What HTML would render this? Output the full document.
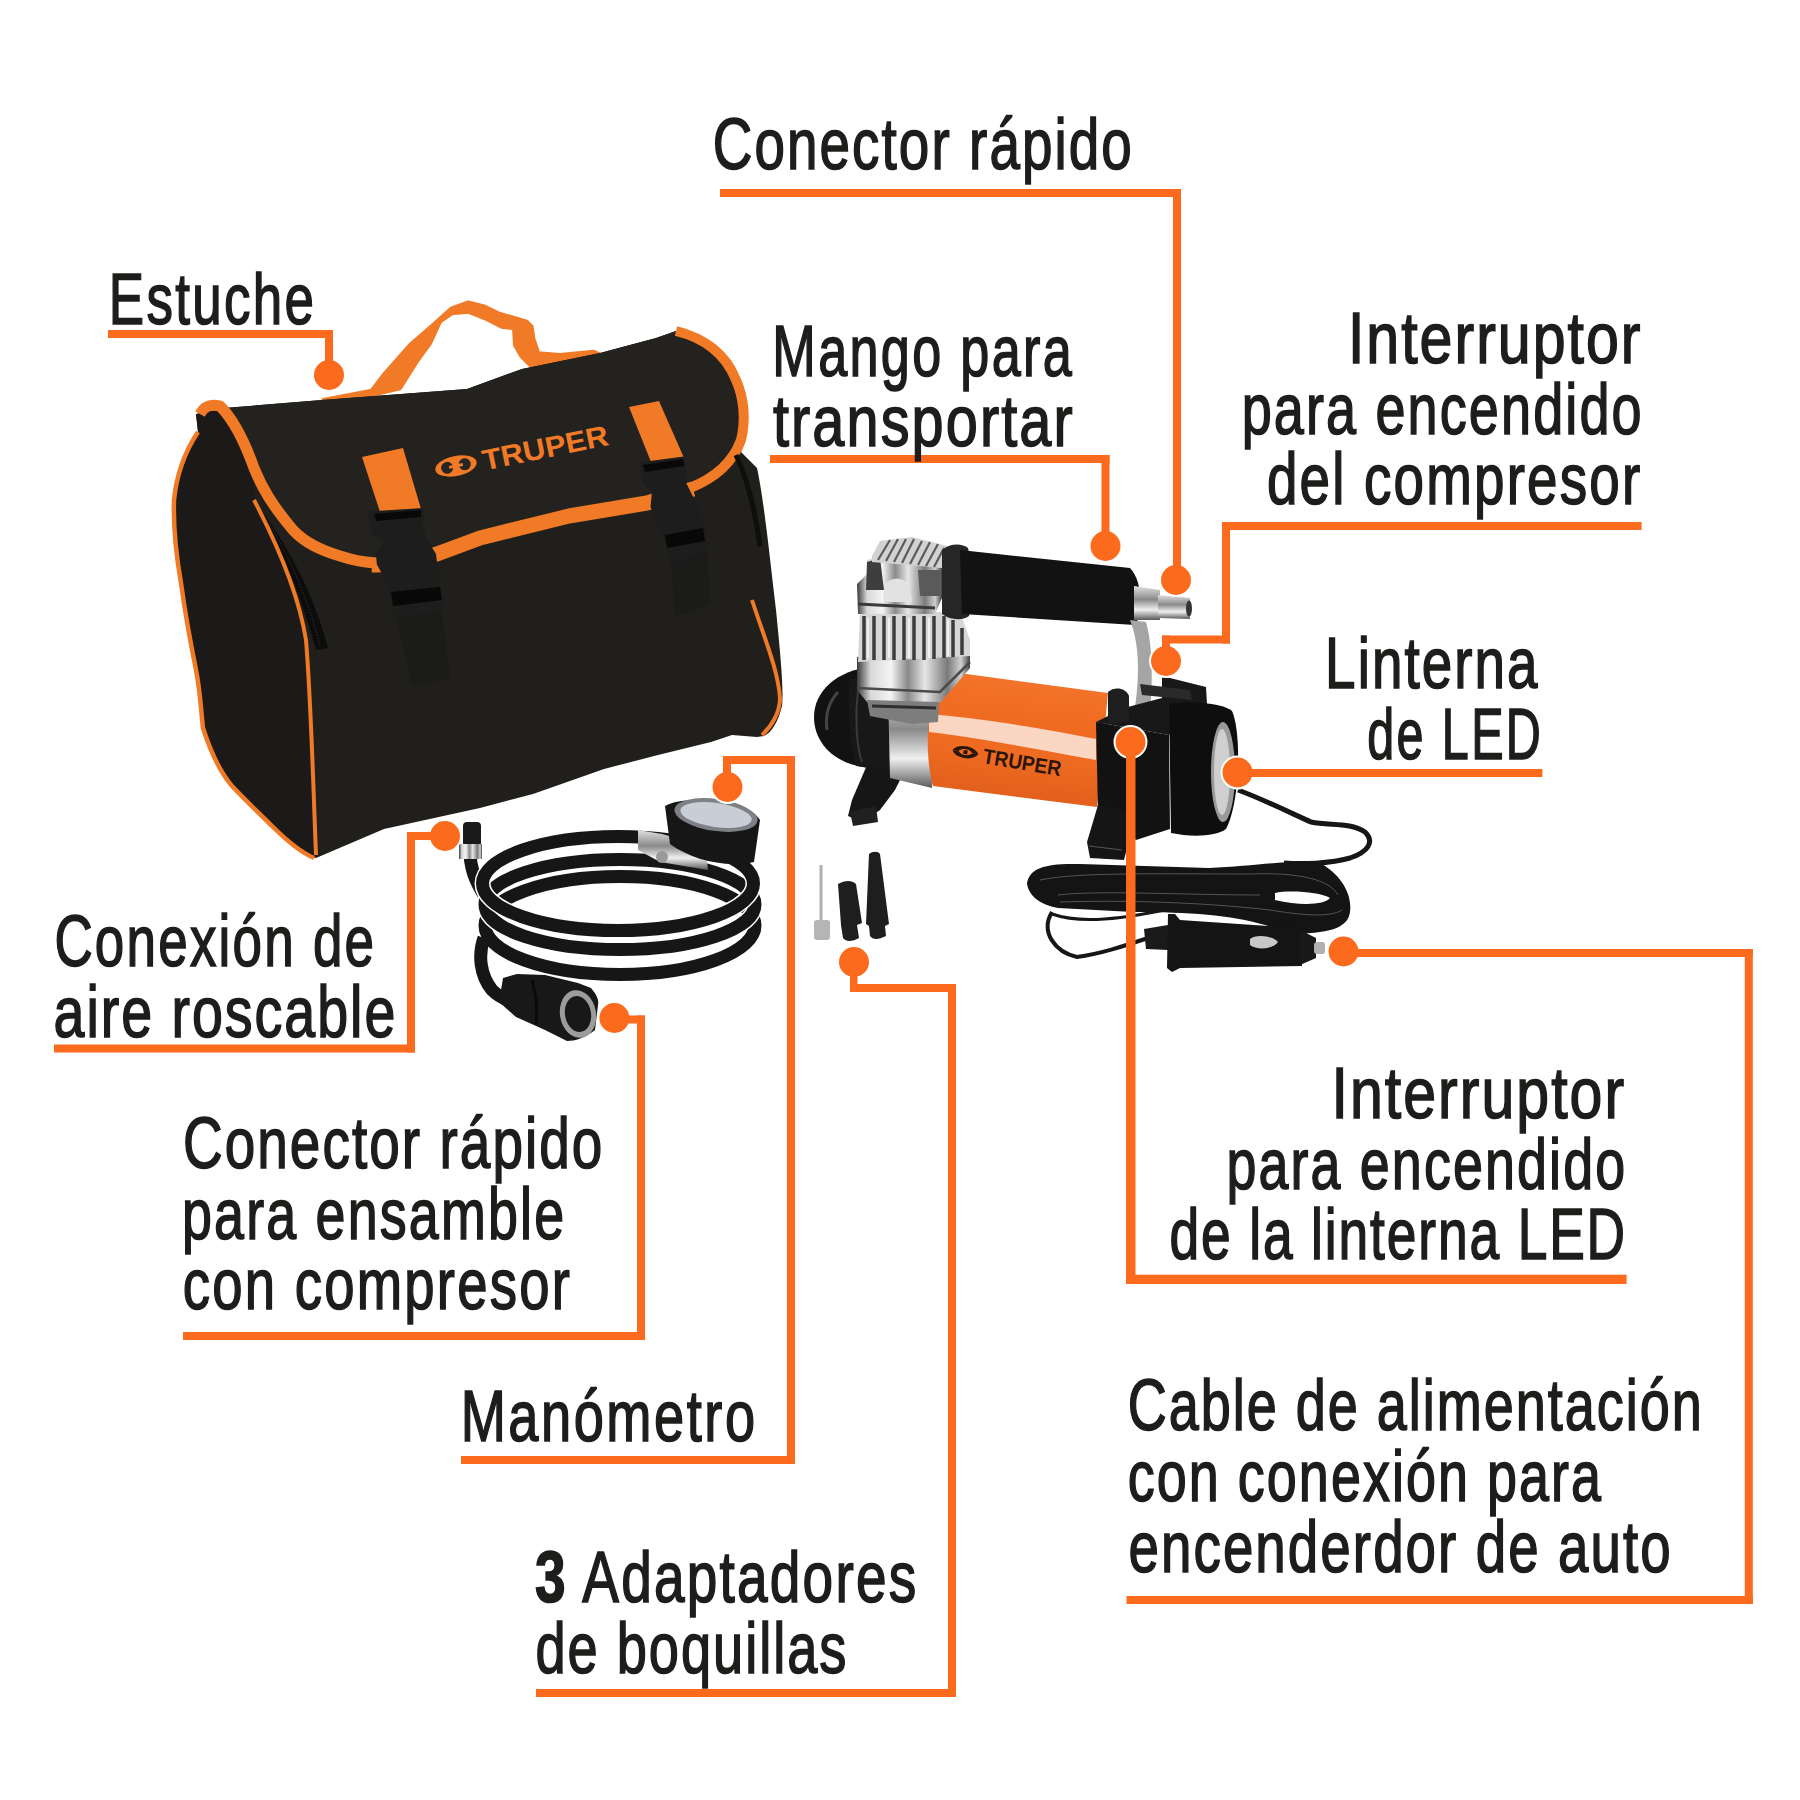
<!DOCTYPE html>
<html><head><meta charset="utf-8"><style>
html,body{margin:0;padding:0;background:#fff;width:1800px;height:1800px;overflow:hidden}
svg{position:absolute;left:0;top:0}
</style></head><body>
<svg width="1800" height="1800" viewBox="0 0 1800 1800">
<defs>
<linearGradient id="chrome" x1="0" y1="0" x2="1" y2="0">
<stop offset="0" stop-color="#3a3a3a"/><stop offset="0.12" stop-color="#d8d8d8"/><stop offset="0.3" stop-color="#f4f4f4"/><stop offset="0.45" stop-color="#8a8a8a"/><stop offset="0.6" stop-color="#e6e6e6"/><stop offset="0.8" stop-color="#7a7a7a"/><stop offset="0.92" stop-color="#d0d0d0"/><stop offset="1" stop-color="#404040"/>
</linearGradient>
<linearGradient id="chromeV" x1="0" y1="0" x2="0" y2="1">
<stop offset="0" stop-color="#e0e0e0"/><stop offset="0.4" stop-color="#8a8a8a"/><stop offset="0.7" stop-color="#f0f0f0"/><stop offset="1" stop-color="#5a5a5a"/>
</linearGradient>
<linearGradient id="orng" gradientUnits="userSpaceOnUse" x1="1024" y1="683" x2="1010" y2="799">
<stop offset="0" stop-color="#f27329"/><stop offset="0.3" stop-color="#f06b22"/><stop offset="0.6" stop-color="#ef6b22"/><stop offset="1" stop-color="#e15f1c"/>
</linearGradient>
</defs>
<!-- ================= BAG ================= -->
<g id="bag">
<!-- handle -->
<path d="M323.3 400.0 L371.7 390.8 L385.0 373.3 L410.0 345.0 L435.0 323.3 L451.7 308.3 L468.3 302.5 L485.0 306.7 L498.3 313.3 L526.7 321.7 L531.7 326.7 L533.3 338.3 L538.3 353.3 L560.0 355.0 L593.3 351.7 L599.0 354.0 L599.0 355.0 L560.0 363.3 L531.7 366.7 L521.7 356.7 L515.0 345.0 L514.0 328.3 L501.7 326.7 L485.0 318.3 L468.3 311.7 L451.7 313.3 L440.0 321.7 L430.0 343.3 L416.7 361.7 L400.0 388.3 L371.7 395.0 L351.7 398.3 L323.3 401.7 Z" fill="#f07a26" stroke="#f07a26" stroke-width="4" stroke-linejoin="round"/>
<!-- whole silhouette body -->
<path d="M196 414 L224 408 L322 400 L467 389 L522 369 L600 353 L656 338 L676 331 C 700 336, 725 355, 736 380 C 744 400, 746 430, 741 452 L757 468 C 764 500, 770 560, 776 610 C 780 650, 784 690, 782 706 C 778 722, 772 732, 764 736 L757 737 L732 735 L711 742 L658 755 L604 769 L533 794 L480 808 L384 829 L316 858 C 300 852, 288 842, 272 826 C 258 812, 245 800, 232 786 C 220 772, 210 750, 203 728 C 201 710, 200 690, 196 670 C 192 650, 186 620, 181 583 C 177 560, 173 530, 174 500 C 177 470, 186 450, 198 432 L196 414 Z" fill="#211f1c"/>
<!-- side panel slightly darker -->
<path d="M196 414 L218 411 C 232 425, 246 455, 254 475 L254 500 C 275 540, 298 590, 306 640 C 311 700, 313 780, 316 858 C 300 852, 288 842, 272 826 C 258 812, 245 800, 232 786 C 220 772, 210 750, 203 728 C 201 710, 200 690, 196 670 C 192 650, 186 620, 181 583 C 177 560, 173 530, 174 500 C 177 470, 186 450, 198 432 L196 414 Z" fill="#1b1a18"/>
<!-- side panel orange piping (outer left) -->
<path d="M198 432 C 186 450, 177 470, 174 500 C 173 530, 177 560, 181 583 C 186 620, 192 650, 196 670 C 200 690, 201 710, 203 728 C 210 750, 220 772, 232 786 C 245 800, 258 812, 272 826 C 288 842, 300 852, 314 858" fill="none" stroke="#f07a26" stroke-width="4.5"/>
<!-- zipper dark band -->
<path d="M262 512 C 280 535, 300 570, 312 600 C 320 620, 326 640, 328 648 L 316 650 C 308 620, 296 585, 282 555 C 274 540, 268 528, 262 512 Z" fill="#0c0c0c"/>
<path d="M270 525 C 288 555, 305 590, 320 645" fill="none" stroke="#2a2a2a" stroke-width="1.2" stroke-dasharray="1.5 1.5"/>
<!-- front panel left piping -->
<path d="M254 500 C 275 540, 298 590, 306 640 C 311 700, 313 780, 316 855" fill="none" stroke="#f07a26" stroke-width="4"/>
<!-- right front piping -->
<path d="M752 600 C 765 640, 778 670, 780 698 C 780 712, 772 726, 762 735" fill="none" stroke="#f07a26" stroke-width="4"/>
<!-- flap -->
<path d="M218 411 L224 408 L322 400 L467 389 L522 369 L600 353 L656 338 L676 331 C 700 336, 725 355, 736 380 C 744 400, 746 430, 741 452 C 736 470, 726 480, 693 486 L647 500 L569 514 L480 535 L437 553 L373 564 C 350 560, 330 555, 320 548 C 305 540, 298 535, 293 530 C 282 515, 272 500, 267 494 C 262 485, 258 475, 254 468 C 248 452, 244 440, 240 432 C 232 420, 226 414, 218 411 Z" fill="#24221f"/>
<!-- flap orange piping -->
<path d="M200 414 C 205 405, 212 404, 220 406 C 232 418, 244 440, 254 468 C 262 488, 272 505, 293 530 C 305 543, 320 550, 340 556 C 352 560, 362 562, 375 563" fill="none" stroke="#f07a26" stroke-width="11" stroke-linejoin="round"/>
<path d="M372 565 C 395 566, 415 560, 437 554 L480 538 L569 516 L647 503 L693 489" fill="none" stroke="#f07a26" stroke-width="15" stroke-linejoin="round"/>
<path d="M690 488 C 715 478, 733 462, 741 440 C 746 420, 744 398, 736 380 C 726 355, 705 338, 676 331" fill="none" stroke="#f07a26" stroke-width="10" stroke-linejoin="round"/>
<!-- right zipper -->
<path d="M736 455 C 748 480, 755 510, 760 546" fill="none" stroke="#0e0e0e" stroke-width="5"/>
<!-- straps -->
<path d="M362 457 L403 448 L421 509 L382 518 Z" fill="#f07a26"/>
<path d="M629 407 L659 401 L684 458 L653 467 Z" fill="#f07a26"/>
<!-- webbing below buckles -->
<path d="M395 610 L441 605 L450 678 L412 686 Z" fill="#1b1b1a"/>
<path d="M671 560 L707 547 L710 604 L675 617 Z" fill="#1b1b1a"/>
<!-- buckles -->
<path d="M368.2 511.5 L423.0 508.0 L423.8 518.0 L422.4 526.7 L428.0 541.0 L436.0 554.0 L439.7 584.5 L444.0 610.5 L395.0 617.7 L387.7 584.5 L376.8 564.3 L376.0 554.0 L383.4 541.0 L371.8 534.0 L369.0 521.0 Z" fill="#1d1d1d"/>
<path d="M640.4 462.3 L683.8 456.5 L686.6 472.4 L685.2 481.0 L699.6 510.0 L704.0 525.8 L708.3 550.4 L672.2 563.4 L659.2 527.3 L650.5 507.0 L652.0 491.2 L643.3 484.0 L641.9 473.9 Z" fill="#1d1d1d"/>
<!-- buckle slots -->
<path d="M374 514 L421 510 L421 517 L376 521 Z" fill="#080808"/>
<path d="M391 592 L440 587 L442 600 L393 606 Z" fill="#080808"/>
<path d="M643 465 L683 459 L684 466 L645 472 Z" fill="#080808"/>
<path d="M665 535 L703 528 L705 541 L667 548 Z" fill="#080808"/>
<!-- TRUPER logo on bag -->
<g transform="translate(437,478) rotate(-11.5)" fill="#f07a26">
<ellipse cx="21" cy="-8" rx="21" ry="10"/>
<circle cx="12" cy="-8" r="6" fill="#262626"/><circle cx="30" cy="-8" r="6" fill="#262626"/>
<rect x="14" y="-9.5" width="14" height="3" fill="#f07a26"/>
<text x="48" y="2" font-family="Liberation Sans" font-weight="bold" font-size="29" textLength="128" lengthAdjust="spacingAndGlyphs">TRUPER</text>
</g>
</g>
<!-- ================= COMPRESSOR ================= -->
<g id="comp">
<!-- cable from light -->
<path d="M1238 790 C 1265 800, 1295 815, 1311 822 C 1330 826, 1350 822, 1365 832 C 1375 842, 1368 852, 1350 858 C 1330 864, 1300 864, 1284 863" fill="none" stroke="#161616" stroke-width="5"/>
<!-- coil mass -->
<path d="M1027 883 C 1030 868, 1045 863, 1080 864 L1209 868 C 1260 866, 1300 858, 1322 864 C 1345 878, 1352 898, 1350 912 C 1348 926, 1335 933, 1294 934 L1265 925 C 1230 915, 1190 912, 1133 912 L1058 908 C 1040 905, 1028 895, 1027 883 Z" fill="#141414"/>
<path d="M1275 893 C 1290 890, 1320 892, 1330 898 C 1325 905, 1300 906, 1275 900 Z" fill="#fff"/>
<g fill="none" stroke="#555" stroke-width="1">
<path d="M1040 880 C 1080 872, 1150 874, 1250 874 C 1300 872, 1330 880, 1338 895"/>
<path d="M1058 895 C 1100 890, 1180 895, 1260 895"/>
<path d="M1060 902 C 1120 900, 1200 902, 1270 910 C 1300 915, 1330 918, 1342 910"/>
</g>
<g fill="none" stroke="#161616">
<path d="M1052 912 C 1040 932, 1055 952, 1077 957 C 1100 954, 1124 946, 1148 938" stroke-width="4"/>
<path d="M1052 914 C 1080 924, 1120 920, 1184 906" stroke-width="3"/>
</g>
<!-- car plug -->
<path d="M1144 929 L1168 925 L1168 950 L1146 949 Z" fill="#1a1a1a"/>
<path d="M1168 914 L1175 914 L1180 920 L1300 928 L1302 966 L1180 968 L1172 972 L1167 968 Z" fill="#141414"/>
<path d="M1300 930 L1316 938 L1316 958 L1300 965 Z" fill="#181818"/>
<path d="M1250 939 C 1255 934, 1272 935, 1278 942 C 1272 950, 1256 950, 1250 945 Z" fill="#c8c8c8"/>
<rect x="1314" y="942" width="11" height="12" rx="3" fill="#b0b0b0"/>
<!-- left end dome -->
<path d="M872 667 C 836 670, 814 692, 814 717 C 814 744, 836 766, 872 768 Z" fill="#121212"/>
<path d="M838 692 C 828 703, 825 716, 827 730" stroke="#444" stroke-width="3" fill="none"/>
<!-- left foot -->
<path d="M870 758 L907 766 L895 790 L880 810 L862 822 L848 816 L852 800 Z" fill="#161616"/>
<path d="M850 812 L876 806 L878 822 L853 826 Z" fill="#202020"/>
<!-- collar -->
<path d="M850 678 L888 684 C 896 710, 898 745, 896 772 L856 766 C 849 740, 847 705, 850 678 Z" fill="#181818"/>
<path d="M858 690 C 855 715, 856 745, 862 762" stroke="#3a3a3a" stroke-width="2" fill="none"/>
<!-- chrome section -->
<path d="M888 690 L937 698 L932 788 L890 778 Z" fill="url(#chromeV)"/>
<!-- orange cylinder -->
<path d="M959 673 L1108 693 L1097 807 L933 786 C 926 760, 925 720, 936 689 C 942 680, 950 675, 959 673 Z" fill="url(#orng)"/>
<path d="M929 714 C 980 718, 1040 728, 1096 739 L1096 760 C 1040 750, 980 738, 929 732 Z" fill="#fbd6c2"/>
<!-- TRUPER on compressor -->
<g transform="translate(952,754) rotate(9.5)" fill="#2a1508">
<path d="M0 -4 C 3 -12, 22 -12, 26 -4 L 20 -4 C 17 -8, 9 -8, 6 -4 Z"/>
<path d="M0 -4 C 3 4, 22 4, 26 -4 L 20 -4 C 17 0, 9 0, 6 -4 Z"/>
<rect x="11" y="-6" width="4" height="4"/>
<text x="31" y="4" font-family="Liberation Sans" font-weight="bold" font-size="21" textLength="79" lengthAdjust="spacingAndGlyphs">TRUPER</text>
</g>
<!-- chrome base plate -->
<path d="M857 657 L970 642 L970 668 L940 703 L867 702 L857 690 Z" fill="url(#chrome)"/>
<path d="M857 688 L940 692 L970 662" fill="none" stroke="#4a4a4a" stroke-width="2.5"/>
<path d="M867 700 L939 702 L938 722 L912 724 L870 716 Z" fill="#7d7d7d"/>
<path d="M872 706 L936 708" stroke="#2e2e2e" stroke-width="3"/>
<!-- finned cylinder -->
<path d="M860 612 L960 612 L970 640 L970 656 L858 662 Z" fill="#d6d6d6"/>
<g stroke="#3c3c3c" stroke-width="3.5">
<line x1="864" y1="616" x2="864" y2="660"/><line x1="874" y1="616" x2="874" y2="660"/><line x1="884" y1="616" x2="884" y2="660"/><line x1="894" y1="616" x2="894" y2="660"/><line x1="904" y1="616" x2="904" y2="660"/><line x1="914" y1="616" x2="914" y2="660"/><line x1="924" y1="616" x2="924" y2="660"/><line x1="934" y1="616" x2="934" y2="659"/><line x1="944" y1="616" x2="944" y2="658"/><line x1="953" y1="620" x2="953" y2="657"/><line x1="962" y1="628" x2="962" y2="655"/>
</g>
<g stroke="#f8f8f8" stroke-width="1.5">
<line x1="868" y1="618" x2="868" y2="658"/><line x1="889" y1="618" x2="889" y2="658"/><line x1="909" y1="618" x2="909" y2="658"/><line x1="929" y1="618" x2="929" y2="658"/><line x1="948" y1="620" x2="948" y2="656"/>
</g>
<!-- head block -->
<path d="M857 584 L867 574 L867 560 L880 556 L942 568 L942 598 L935 614 L858 614 Z" fill="url(#chrome)"/>
<path d="M884 586 C 888 577, 905 576, 910 586 L912 602 L884 602 Z" fill="#e2e2e2"/>
<path d="M858 604 L935 608" stroke="#3a3a3a" stroke-width="3"/>
<path d="M867 562 L880 558 L884 590 L866 590 Z" fill="#3e3e3e"/>
<path d="M918 570 L940 570 L940 596 L920 596 Z" fill="#5a5a5a"/>
<!-- fins on top -->
<path d="M872 556 L880 541 L912 537 L947 546 L944 568 L872 562 Z" fill="#d2d2d2"/>
<g stroke="#5c5c5c" stroke-width="2.2">
<line x1="878" y1="560" x2="890" y2="540"/><line x1="886" y1="561" x2="898" y2="539"/><line x1="894" y1="562" x2="906" y2="539"/><line x1="902" y1="563" x2="914" y2="539"/><line x1="910" y1="564" x2="922" y2="541"/><line x1="918" y1="565" x2="930" y2="542"/><line x1="926" y1="566" x2="938" y2="544"/><line x1="934" y1="567" x2="944" y2="548"/>
</g>
<!-- handle ring -->
<path d="M942 550 C 950 543, 962 543, 968 548 C 974 572, 975 596, 969 616 C 962 621, 950 620, 942 614 Z" fill="#262626"/>
<!-- handle foam -->
<path d="M960 550 L1130 568 C 1142 580, 1144 612, 1135 625 L962 614 Z" fill="#121212"/>
<!-- quick connector -->
<path d="M1134 586 L1160 590 L1160 620 L1134 620 Z" fill="url(#chromeV)"/>
<path d="M1158 595 L1190 598 L1190 619 L1158 618 Z" fill="url(#chromeV)"/>
<ellipse cx="1189" cy="608.5" rx="3" ry="8" fill="#333"/>
<!-- bracket -->
<path d="M1130 620 L1146 622 C 1154 650, 1152 690, 1150 714 L1134 714 C 1138 690, 1142 650, 1130 620 Z" fill="#a5a5a5"/>
<!-- LED housing -->
<path d="M1096 722 L1124 708 L1162 698 L1162 676 L1206 687 L1207 704 L1169 735 Z" fill="#181818"/>
<path d="M1140 684 L1190 690 L1192 700 L1142 695 Z" fill="#2a2a2a"/>
<path d="M1108 692 C 1115 686, 1126 688, 1129 696 L1129 722 L1108 724 Z" fill="#1e1e1e"/>
<path d="M1096 722 L1169 735 L1170 829 L1136 840 L1098 812 Z" fill="#121212"/>
<!-- right foot -->
<path d="M1098 805 L1136 812 L1124 860 L1090 858 L1087 842 Z" fill="#151515"/>
<path d="M1089 846 L1122 850" stroke="#555" stroke-width="1.2"/>
<!-- light ring -->
<path d="M1169 704 C 1200 700, 1225 705, 1232 711 C 1241 730, 1241 800, 1226 829 C 1215 837, 1190 837, 1171 833 Z" fill="#0e0e0e"/>
<ellipse cx="1223" cy="772" rx="12" ry="50" fill="#9a9a9a"/>
<ellipse cx="1222" cy="772" rx="8" ry="43" fill="#cfcfcf"/>
</g>
<!-- ================= HOSE ================= -->
<g id="hose">
<path d="M470 856 C 472 875, 478 885, 484 895" fill="none" stroke="#161616" stroke-width="13"/>
<g fill="none">
<ellipse cx="620" cy="925.5" rx="135" ry="49" stroke="#fff" stroke-width="16"/>
<ellipse cx="620" cy="925.5" rx="135" ry="49" stroke="#161616" stroke-width="13"/>
<ellipse cx="620" cy="904.5" rx="135" ry="45" stroke="#fff" stroke-width="16"/>
<ellipse cx="620" cy="904.5" rx="135" ry="45" stroke="#161616" stroke-width="13"/>
<ellipse cx="618" cy="883.5" rx="135.5" ry="47" stroke="#fff" stroke-width="16"/>
<ellipse cx="618" cy="883.5" rx="135.5" ry="47" stroke="#161616" stroke-width="13"/>
<path d="M484 938 C 478 955, 480 975, 492 990 C 497 995, 502 998, 508 1000" stroke="#161616" stroke-width="13"/>
</g>
<!-- tip connector -->
<rect x="463" y="822" width="18" height="25" rx="4" fill="#1a1a1a"/>
<rect x="459" y="844" width="23" height="15" fill="url(#chrome)"/>
<!-- T connector -->
<path d="M638 830 L662 834 L705 846 L708 870 L660 862 L638 850 Z" fill="url(#chromeV)"/>
<circle cx="662" cy="857" r="6" fill="#9a9a9a"/>
<!-- gauge -->
<path d="M665 806 C 680 796, 745 796, 760 820 L754 862 C 725 868, 692 860, 670 844 Z" fill="#161616"/>
<ellipse cx="716" cy="815" rx="42" ry="16" fill="#7d8186" transform="rotate(8 716 815)"/>
<ellipse cx="716" cy="815" rx="36" ry="12" fill="#c9ced6" transform="rotate(8 716 815)"/>
<!-- coupler -->
<path d="M503 978 L517 974 L545 975 L578 983 L591 988 C 597 995, 599 1000, 598 1005 L595 1030 C 585 1038, 575 1041, 567 1041 L545 1030 L516 1017 L499 1002 Z" fill="#181818"/>
<path d="M532 980 C 536 995, 538 1010, 536 1024" stroke="#0a0a0a" stroke-width="3" fill="none"/>
<ellipse cx="578" cy="1014" rx="18" ry="24" fill="#9c9c9c" transform="rotate(-10 578 1014)"/>
<ellipse cx="578" cy="1014" rx="13" ry="18" fill="#181818" transform="rotate(-10 578 1014)"/>
</g>
<!-- ================= ADAPTERS ================= -->
<g id="adapters">
<rect x="819.5" y="865" width="3" height="56" fill="#b0b0b0"/>
<rect x="814" y="920" width="16" height="20" rx="3" fill="#b5b5b5"/>
<path d="M838 884 C 845 880, 852 880, 856 884 L862 923 L857 925 L859 938 C 852 942, 846 942, 843 938 L841 925 Z" fill="#1e1e1e"/>
<path d="M869 854 C 873 851, 878 851, 880 854 L889 924 L885 926 L886 936 C 878 940, 873 940, 870 936 L869 926 L866 924 Z" fill="#1e1e1e"/>
</g>

<g fill="#fff">
<circle cx="1176" cy="580" r="17"/>
<circle cx="329" cy="375" r="17"/>
<circle cx="1105.5" cy="546" r="17"/>
<circle cx="1166" cy="661" r="17"/>
<circle cx="1237.5" cy="772.5" r="17"/>
<circle cx="1130.5" cy="742" r="17"/>
<circle cx="1343.5" cy="951.5" r="17"/>
<circle cx="445" cy="836" r="17"/>
<circle cx="614.4" cy="1018" r="17"/>
<circle cx="727.5" cy="787" r="17"/>
<circle cx="854" cy="962" r="17"/>
</g>
<g fill="#fb6a1d">
<rect x="720" y="189" width="461" height="8"/>
<rect x="1173" y="189" width="8" height="391"/>
<rect x="108" y="330" width="225" height="8"/>
<rect x="325" y="330" width="8" height="45"/>
<rect x="770" y="455" width="339.5" height="8"/>
<rect x="1101.5" y="455" width="8.0" height="91"/>
<rect x="1222" y="522" width="419.6" height="8"/>
<rect x="1222" y="522" width="8" height="121.5"/>
<rect x="1162" y="635.5" width="68" height="8.0"/>
<rect x="1162" y="635.5" width="8" height="25.5"/>
<rect x="1237" y="769" width="305.4" height="8"/>
<rect x="1126" y="742" width="9.5" height="542"/>
<rect x="1126" y="1274.7" width="500.6" height="9.3"/>
<rect x="1343" y="949" width="409.8" height="8"/>
<rect x="1744.8" y="949" width="8.0" height="655"/>
<rect x="1126.5" y="1596" width="626.3" height="8"/>
<rect x="54" y="1044.5" width="361" height="8.0"/>
<rect x="407" y="832" width="8" height="220.5"/>
<rect x="407" y="832" width="38" height="8"/>
<rect x="183" y="1332" width="462" height="8"/>
<rect x="637" y="1015.5" width="8" height="324.5"/>
<rect x="614" y="1015.5" width="31" height="8.0"/>
<rect x="461" y="1456" width="333.5" height="8"/>
<rect x="787" y="756" width="8" height="708"/>
<rect x="723" y="756" width="72" height="8"/>
<rect x="723" y="756" width="8" height="31"/>
<rect x="536" y="1689" width="420" height="8"/>
<rect x="948" y="984" width="8" height="713"/>
<rect x="850" y="984" width="106" height="8"/>
<rect x="850" y="962" width="7.5" height="30"/>
<circle cx="1176" cy="580" r="15"/>
<circle cx="329" cy="375" r="15"/>
<circle cx="1105.5" cy="546" r="15"/>
<circle cx="1166" cy="661" r="15"/>
<circle cx="1237.5" cy="772.5" r="15"/>
<circle cx="1130.5" cy="742" r="15"/>
<circle cx="1343.5" cy="951.5" r="15"/>
<circle cx="445" cy="836" r="15"/>
<circle cx="614.4" cy="1018" r="15"/>
<circle cx="727.5" cy="787" r="15"/>
<circle cx="854" cy="962" r="15"/>
</g>
<g font-family="Liberation Sans" font-size="72" fill="#1d1d1b" stroke="#1d1d1b" stroke-width="1.6">
<text transform="translate(712.72 169.4) scale(0.7615 1)" style="letter-spacing:2.726px">Conector rápido</text>
<text transform="translate(108.82 323.8) scale(0.7351 1)" style="letter-spacing:3.161px">Estuche</text>
<text transform="translate(772.37 375.5) scale(0.7255 1)" style="letter-spacing:3.178px">Mango para</text>
<text transform="translate(772.95 446) scale(0.8009 1)" style="letter-spacing:2.612px">transportar</text>
<text transform="translate(1347.88 362.6) scale(0.8206 1)" style="letter-spacing:2.454px">Interruptor</text>
<text transform="translate(1241.7 433.7) scale(0.7501 1)" style="letter-spacing:2.837px">para encendido</text>
<text transform="translate(1266.98 504.4) scale(0.7613 1)" style="letter-spacing:2.848px">del compresor</text>
<text transform="translate(1325.1 688) scale(0.7604 1)" style="letter-spacing:2.753px">Linterna</text>
<text transform="translate(1367.25 759) scale(0.6735 1)" style="letter-spacing:3.538px">de LED</text>
<text transform="translate(1331.58 1118.4) scale(0.8203 1)" style="letter-spacing:2.454px">Interruptor</text>
<text transform="translate(1226.41 1188.6) scale(0.748 1)" style="letter-spacing:2.837px">para encendido</text>
<text transform="translate(1169.42 1259) scale(0.7411 1)" style="letter-spacing:2.51px">de la linterna LED</text>
<text transform="translate(1127.75 1429.7) scale(0.7501 1)" style="letter-spacing:2.653px">Cable de alimentación</text>
<text transform="translate(1127.76 1501) scale(0.7483 1)" style="letter-spacing:2.757px">con conexión para</text>
<text transform="translate(1128.48 1572) scale(0.7592 1)" style="letter-spacing:2.76px">encenderdor de auto</text>
<text transform="translate(54.39 966.2) scale(0.7361 1)" style="letter-spacing:3.003px">Conexión de</text>
<text transform="translate(53.58 1036.6) scale(0.7719 1)" style="letter-spacing:2.553px">aire roscable</text>
<text transform="translate(183.01 1167.8) scale(0.7618 1)" style="letter-spacing:2.726px">Conector rápido</text>
<text transform="translate(182.01 1238.6) scale(0.7469 1)" style="letter-spacing:2.948px">para ensamble</text>
<text transform="translate(182.73 1309.4) scale(0.7567 1)" style="letter-spacing:2.967px">con compresor</text>
<text transform="translate(460.63 1441) scale(0.7531 1)" style="letter-spacing:3.359px">Manómetro</text>
<text transform="translate(535.07 1602) scale(0.764 1)" style="letter-spacing:2.885px"><tspan font-weight="bold">3</tspan> Adaptadores</text>
<text transform="translate(535.49 1673) scale(0.7531 1)" style="letter-spacing:2.6px">de boquillas</text>
</g>
</svg>
</body></html>
